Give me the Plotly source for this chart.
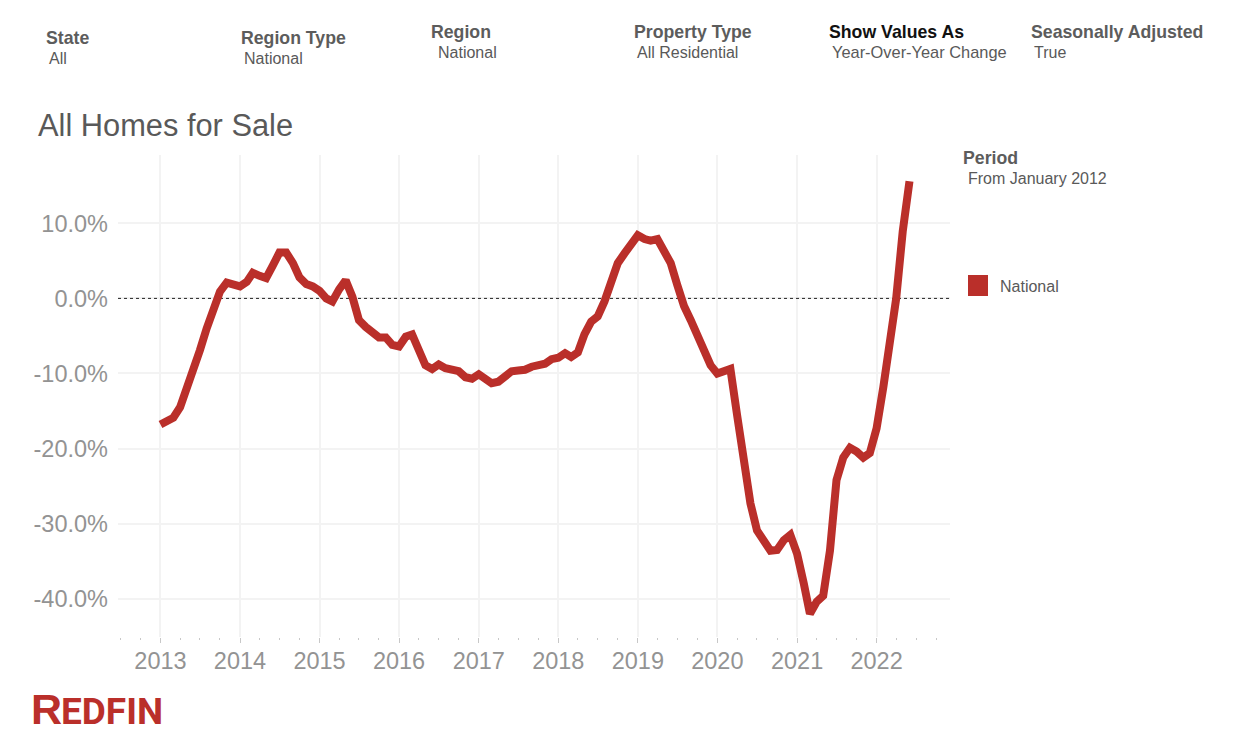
import pandas as pd
import plotly.graph_objects as go

WIDTH = 1236
HEIGHT = 752
# plot area in page pixels
LEFT, RIGHT, TOP, BOTTOM = 118, 950, 155, 637

RED = "#ba2f2a"
HEAD_GREY = "#5c5c5c"
TEXT_GREY = "#595959"
TICK_GREY = "#939393"
GRID = "#f3f3f3"

X_RANGE = ["2012-06-20", "2022-12-04"]

# year over year change, monthly from Jan 2013 to Jun 2022
yoy_2013 = [-16.8, -16.3, -15.9, -14.5, -12.2, -9.8, -6.9, -4.0, -1.6, 0.9, 2.1, 1.9]
yoy_2014 = [1.6, 2.2, 3.4, 3.0, 2.7, 4.4, 6.1, 6.1, 4.7, 2.8, 1.9, 1.6]
yoy_2015 = [1.0, 0.0, -0.4, 1.2, 2.4, 0.2, -2.9, -3.8, -4.7, -5.2, -5.2, -6.2]
yoy_2016 = [-6.4, -5.1, -4.8, -6.9, -8.9, -9.4, -8.8, -9.3, -9.6, -9.7, -10.5, -10.7]
yoy_2017 = [-10.1, -10.9, -11.3, -11.1, -10.4, -9.7, -9.6, -9.5, -9.1, -8.8, -8.7, -8.1]
yoy_2018 = [-7.9, -7.3, -7.8, -7.2, -4.8, -3.1, -2.4, -0.4, 2.4, 4.7, 6.0, 7.1]
yoy_2019 = [8.4, 7.9, 7.7, 7.9, 6.4, 4.7, 1.8, -1.0, -2.9, -5.1, -6.9, -8.9]
yoy_2020 = [-10.0, -9.7, -9.4, -15.6, -21.1, -27.3, -30.9, -32.1, -33.6, -33.5, -32.2, -31.5]
yoy_2021 = [-34.0, -38.0, -42.0, -40.4, -39.6, -33.6, -24.2, -21.2, -19.9, -20.4, -21.2, -20.6]
yoy_2022 = [-17.3, -11.8, -6.7, 0.0, 8.9, 15.6]

values = yoy_2013 + yoy_2014 + yoy_2015 + yoy_2016 + yoy_2017 + yoy_2018 + yoy_2019 + yoy_2020 + yoy_2021 + yoy_2022
months = pd.date_range("2013-01-01", periods=len(values), freq="MS")

zero_line = [0, 0]

y_ticks = [10, 0, -10, -20, -30, -40]
y_labels = ["10.0%", "0.0%", "-10.0%", "-20.0%", "-30.0%", "-40.0%"]

# heading, value, heading x, value x, heading y, value y, heading colour, value size
filters = [
    ("State", "All", 46, 49, 38, 58, HEAD_GREY, 16),
    ("Region Type", "National", 241, 244, 38, 58, HEAD_GREY, 16),
    ("Region", "National", 431, 438, 32, 52, HEAD_GREY, 16),
    ("Property Type", "All Residential", 634, 637, 32, 52, HEAD_GREY, 16),
    ("Show Values As", "Year-Over-Year Change", 829, 832, 32, 52, "#111111", 16.4),
    ("Seasonally Adjusted", "True", 1031, 1034, 32, 52, HEAD_GREY, 16),
    ("Period", "From January 2012", 963, 968, 158, 178, HEAD_GREY, 16),
]


def paper_x(px):
    # annotations sit 2px right of their anchor because of the default padding
    return (px - 2 - LEFT) / (RIGHT - LEFT)


def paper_y(px):
    return (BOTTOM - px) / (BOTTOM - TOP)


def add_label(fig, text, x, y, size, color, family="Liberation Sans", bold=False):
    fig.add_annotation(
        text="<b>{}</b>".format(text) if bold else text,
        x=paper_x(x), y=paper_y(y), xref="paper", yref="paper",
        xanchor="left", yanchor="middle", showarrow=False,
        font=dict(family=family, size=size, color=color),
    )


fig = go.Figure()
# dotted line at zero, as a trace so it stays above the gridlines and under the series
fig.add_trace(go.Scatter(
    x=X_RANGE, y=zero_line, mode="lines", showlegend=False,
    line=dict(color="#222222", width=1, dash="dot"),
))
fig.add_trace(go.Scatter(
    x=months, y=values, mode="lines", name="National",
    line=dict(color=RED, width=8), showlegend=False,
))

for head, val, head_x, val_x, head_y, val_y, head_color, val_size in filters:
    add_label(fig, head, head_x, head_y, 17.7, head_color, bold=True)
    add_label(fig, val, val_x, val_y, val_size, TEXT_GREY)

add_label(fig, "All Homes for Sale", 38, 125, 30.8, TEXT_GREY)

# legend swatch
fig.add_shape(
    type="rect", xref="paper", yref="paper",
    x0=(968 - LEFT) / (RIGHT - LEFT), x1=(988 - LEFT) / (RIGHT - LEFT), y0=paper_y(296), y1=paper_y(275),
    fillcolor=RED, line_width=0,
)
add_label(fig, "National", 1000, 286, 16, TEXT_GREY)

# logo
add_label(fig, "R", 31, 709, 43, RED, bold=True)
add_label(fig, "EDFIN", 61, 711, 37, RED, family="Roboto", bold=True)

fig.update_layout(
    width=WIDTH, height=HEIGHT,
    margin=dict(l=LEFT, r=WIDTH - RIGHT, t=TOP, b=HEIGHT - BOTTOM),
    paper_bgcolor="white", plot_bgcolor="white",
    font=dict(family="Liberation Sans"),
    hovermode=False,
)
fig.update_xaxes(
    type="date", range=X_RANGE,
    dtick="M12", tick0="2013-01-01", tickformat="%Y",
    ticks="outside", ticklen=5, tickwidth=1, tickcolor="#c8c8c8",
    ticklabelstandoff=-2,
    tickfont=dict(size=23.5, color=TICK_GREY),
    showgrid=True, gridcolor=GRID, gridwidth=1.5,
    minor=dict(dtick="M3", tick0="2013-01-01", ticks="outside", ticklen=2, tickcolor="#c8c8c8", showgrid=False),
    showline=False, zeroline=False,
)
fig.update_yaxes(
    range=[-45.1, 19.1],
    tickmode="array", tickvals=y_ticks, ticktext=y_labels,
    ticks="", ticklabelstandoff=9,
    tickfont=dict(size=23.5, color=TICK_GREY),
    showgrid=True, gridcolor=GRID, gridwidth=1.5,
    showline=False, zeroline=False,
)

fig.write_html(
    "out.html",
    config=dict(displayModeBar=False),
    post_script="document.body.style.margin='0';document.body.style.overflow='hidden';",
)
